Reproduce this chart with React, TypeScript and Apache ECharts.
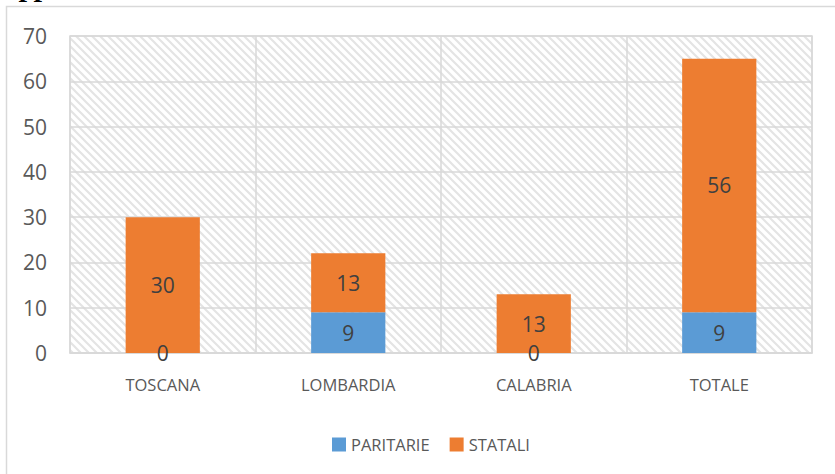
import React, { useEffect, useRef } from "react";
import * as echarts from "echarts";

const categories = ["TOSCANA", "LOMBARDIA", "CALABRIA", "TOTALE"];
const paritarie = [0, 9, 0, 9];
const statali = [30, 13, 13, 56];
const yTicks = { min: 0, max: 70, interval: 10 };
const headingText = "appartenenza:";

function makeHatch(): HTMLCanvasElement {
  const c = document.createElement("canvas");
  c.width = 8;
  c.height = 8;
  const ctx = c.getContext("2d")!;
  ctx.fillStyle = "#ffffff";
  ctx.fillRect(0, 0, 8, 8);
  ctx.strokeStyle = "#e4e4e4";
  ctx.lineWidth = 2.2;
  ctx.beginPath();
  ctx.moveTo(-4, -4);
  ctx.lineTo(12, 12);
  ctx.moveTo(-4, 4);
  ctx.lineTo(4, 12);
  ctx.moveTo(4, -4);
  ctx.lineTo(12, 4);
  ctx.stroke();
  return c;
}

export default function App() {
  const ref = useRef<HTMLDivElement>(null);
  useEffect(() => {
    if (!ref.current) return;
    const chart = echarts.init(ref.current, null, { renderer: "svg" });
    const font = "'Open Sans', sans-serif";
    const hatch = makeHatch();
    chart.setOption({
      animation: false,
      backgroundColor: "#ffffff",
      textStyle: { fontFamily: font },
      graphic: [
        {
          type: "rect",
          z: -10,
          shape: { x: 6.5, y: 6.5, width: 900, height: 600 },
          style: { fill: "none", stroke: "#d9d9d9", lineWidth: 1.5 },
        },
        {
          type: "text",
          left: 6,
          top: -30,
          style: {
            text: headingText,
            font: "italic bold 30px 'Liberation Serif', serif",
            fill: "#000000",
          },
        },
      ],
      grid: {
        left: 70,
        top: 36,
        right: 23,
        bottom: 121,
        show: true,
        backgroundColor: { image: hatch, repeat: "repeat", imageWidth: 8, imageHeight: 8 },
        borderColor: "#d9d9d9",
        borderWidth: 1.5,
      },
      legend: {
        data: ["PARITARIE", "STATALI"],
        left: 327,
        top: 431,
        icon: "rect",
        itemWidth: 14,
        itemHeight: 14,
        itemGap: 20,
        textStyle: { fontSize: 16.5, color: "#595959", fontFamily: font },
      },
      xAxis: {
        type: "category",
        data: categories,
        axisLine: { lineStyle: { color: "#d9d9d9", width: 1.5 } },
        axisTick: { show: false },
        splitLine: { show: true, lineStyle: { color: "#d9d9d9", width: 1.5 } },
        axisLabel: { fontSize: 16.5, color: "#595959", margin: 23, fontFamily: font },
      },
      yAxis: {
        type: "value",
        min: yTicks.min,
        max: yTicks.max,
        interval: yTicks.interval,
        axisLine: { show: false },
        axisTick: { show: false },
        splitLine: { lineStyle: { color: "#d9d9d9", width: 1.5 } },
        axisLabel: { fontSize: 21, color: "#595959", margin: 23, fontFamily: font },
      },
      series: [
        {
          name: "PARITARIE",
          type: "bar",
          stack: "tot",
          barWidth: "40%",
          data: paritarie,
          itemStyle: { color: "#5B9BD5" },
          label: { show: true, position: "inside", fontSize: 21, color: "#404040", fontFamily: font },
        },
        {
          name: "STATALI",
          type: "bar",
          stack: "tot",
          barWidth: "40%",
          data: statali,
          itemStyle: { color: "#ED7D31" },
          label: { show: true, position: "inside", fontSize: 21, color: "#404040", fontFamily: font },
        },
      ],
    });
    return () => chart.dispose();
  }, []);
  return (
    <div
      ref={ref}
      style={{ position: "absolute", left: 0, top: 0, width: 835, height: 474 }}
    />
  );
}
